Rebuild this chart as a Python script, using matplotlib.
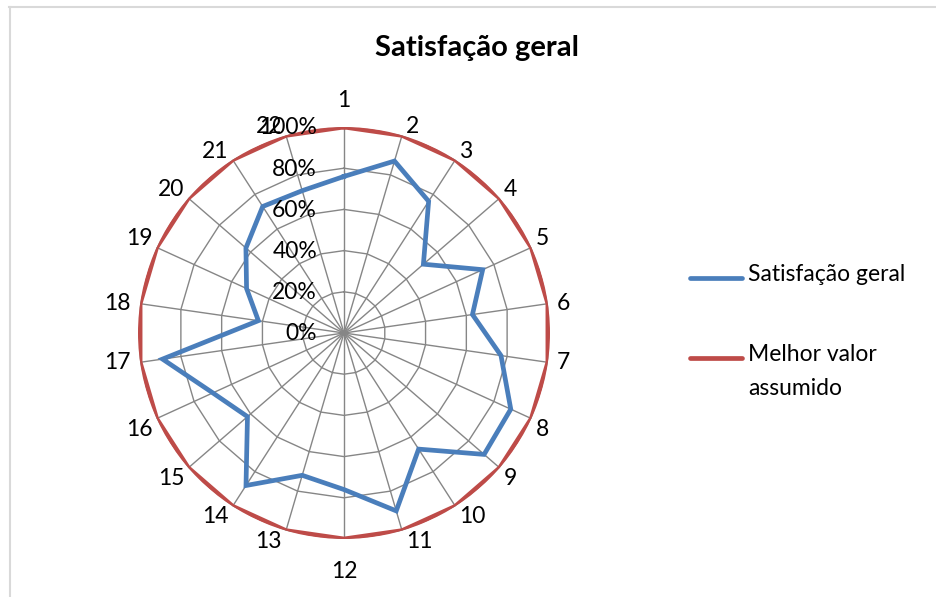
import numpy as np
import matplotlib
matplotlib.use("Agg")
import matplotlib.pyplot as plt
from matplotlib.lines import Line2D

plt.rcParams['font.family'] = ['Lato', 'DejaVu Sans']

# categories around the radar (1..22)
categorias = [str(i) for i in range(1, 23)]
satisfacao = [0.76, 0.87, 0.76, 0.51, 0.74, 0.63, 0.77, 0.89, 0.90, 0.67, 0.90,
              0.76, 0.72, 0.88, 0.62, 0.70, 0.89, 0.42, 0.52, 0.63, 0.73, 0.72]
melhor_valor = [1.0] * 22
niveis = [0.0, 0.2, 0.4, 0.6, 0.8, 1.0]
niveis_txt = ['0%', '20%', '40%', '60%', '80%', '100%']
series = ['Satisfação geral', 'Melhor valor\nassumido']
cores = ['#4a7ebb', '#be4b48']

W, H = 936, 597
n = len(categorias)
ang = np.linspace(0, 2 * np.pi, n, endpoint=False)
ang_f = np.append(ang, ang[0])

fig = plt.figure(figsize=(W / 100, H / 100), dpi=100)
px = 72 / 100  # pixels -> points

# chart frame (top and left edges)
fig.add_artist(Line2D([9 / W, 1], [1 - 7 / H, 1 - 7 / H], color='#d9d9d9', lw=1.5))
fig.add_artist(Line2D([10 / W, 10 / W], [0, 1 - 7 / H], color='#d9d9d9', lw=1.5))

cx, cy, R = 344, 333, 206
ax = fig.add_axes([(cx - R) / W, (H - cy - R) / H, 2 * R / W, 2 * R / H],
                  projection='polar')
ax.set_theta_zero_location('N')
ax.set_theta_direction(-1)
ax.set_ylim(0, 1)
ax.grid(False)
ax.spines['polar'].set_visible(False)
ax.set_yticks([])
ax.set_xticks([])
ax.patch.set_alpha(0)

# polygon gridlines and spokes
for r in niveis[1:]:
    ax.plot(ang_f, [r] * (n + 1), color='#868686', lw=1.0, zorder=1)
for a in ang:
    ax.plot([a, a], [0, 1], color='#868686', lw=1.0, zorder=1)

l1, = ax.plot(ang_f, satisfacao + satisfacao[:1], color=cores[0], lw=3.4,
              solid_joinstyle='miter', zorder=3)
l2, = ax.plot(ang_f, melhor_valor + melhor_valor[:1], color=cores[1], lw=3.4,
              solid_joinstyle='miter', zorder=2)

# category labels, anchored just outside each vertex
for a, c in zip(ang, categorias):
    s, co = np.sin(a), np.cos(a)
    if abs(s) < 0.05:
        ha, va = 'center', ('bottom' if co > 0 else 'top')
        off = (0, (16 if co > 0 else 22) * np.sign(co))
    elif abs(co) < 0.3:
        ha, va = ('left' if s > 0 else 'right'), 'center'
        off = (9 * np.sign(s), 0)
    else:
        ha = 'left' if s > 0 else 'right'
        va = 'bottom' if co > 0 else 'top'
        off = (4 * np.sign(s), -2 if co > 0 else 0)
    ax.annotate(c, xy=(a, 1), xytext=(off[0] * px, off[1] * px),
                textcoords='offset points', ha=ha, va=va, fontsize=16.5)

# radial scale labels, left of the vertical axis
for r, t in zip(niveis, niveis_txt):
    ax.annotate(t, xy=(0, r), xytext=(-27 * px, -1 * px), textcoords='offset points',
                ha='right', va='center', fontsize=16.5)

fig.text(477 / W, 1 - 48 / H, 'Satisfação geral', ha='center', va='center',
         fontsize=21, fontweight='bold')

# legend entries
for (yl, lab, cor) in zip([278, 358], series, cores):
    fig.add_artist(Line2D([690 / W, 742 / W], [1 - yl / H] * 2, color=cor, lw=3.4,
                          solid_capstyle='round'))
    fig.text(748 / W, 1 - (yl - 14) / H, lab, ha='left', va='top',
             fontsize=16.5, linespacing=1.75)

fig.savefig('out.png', dpi=100)
